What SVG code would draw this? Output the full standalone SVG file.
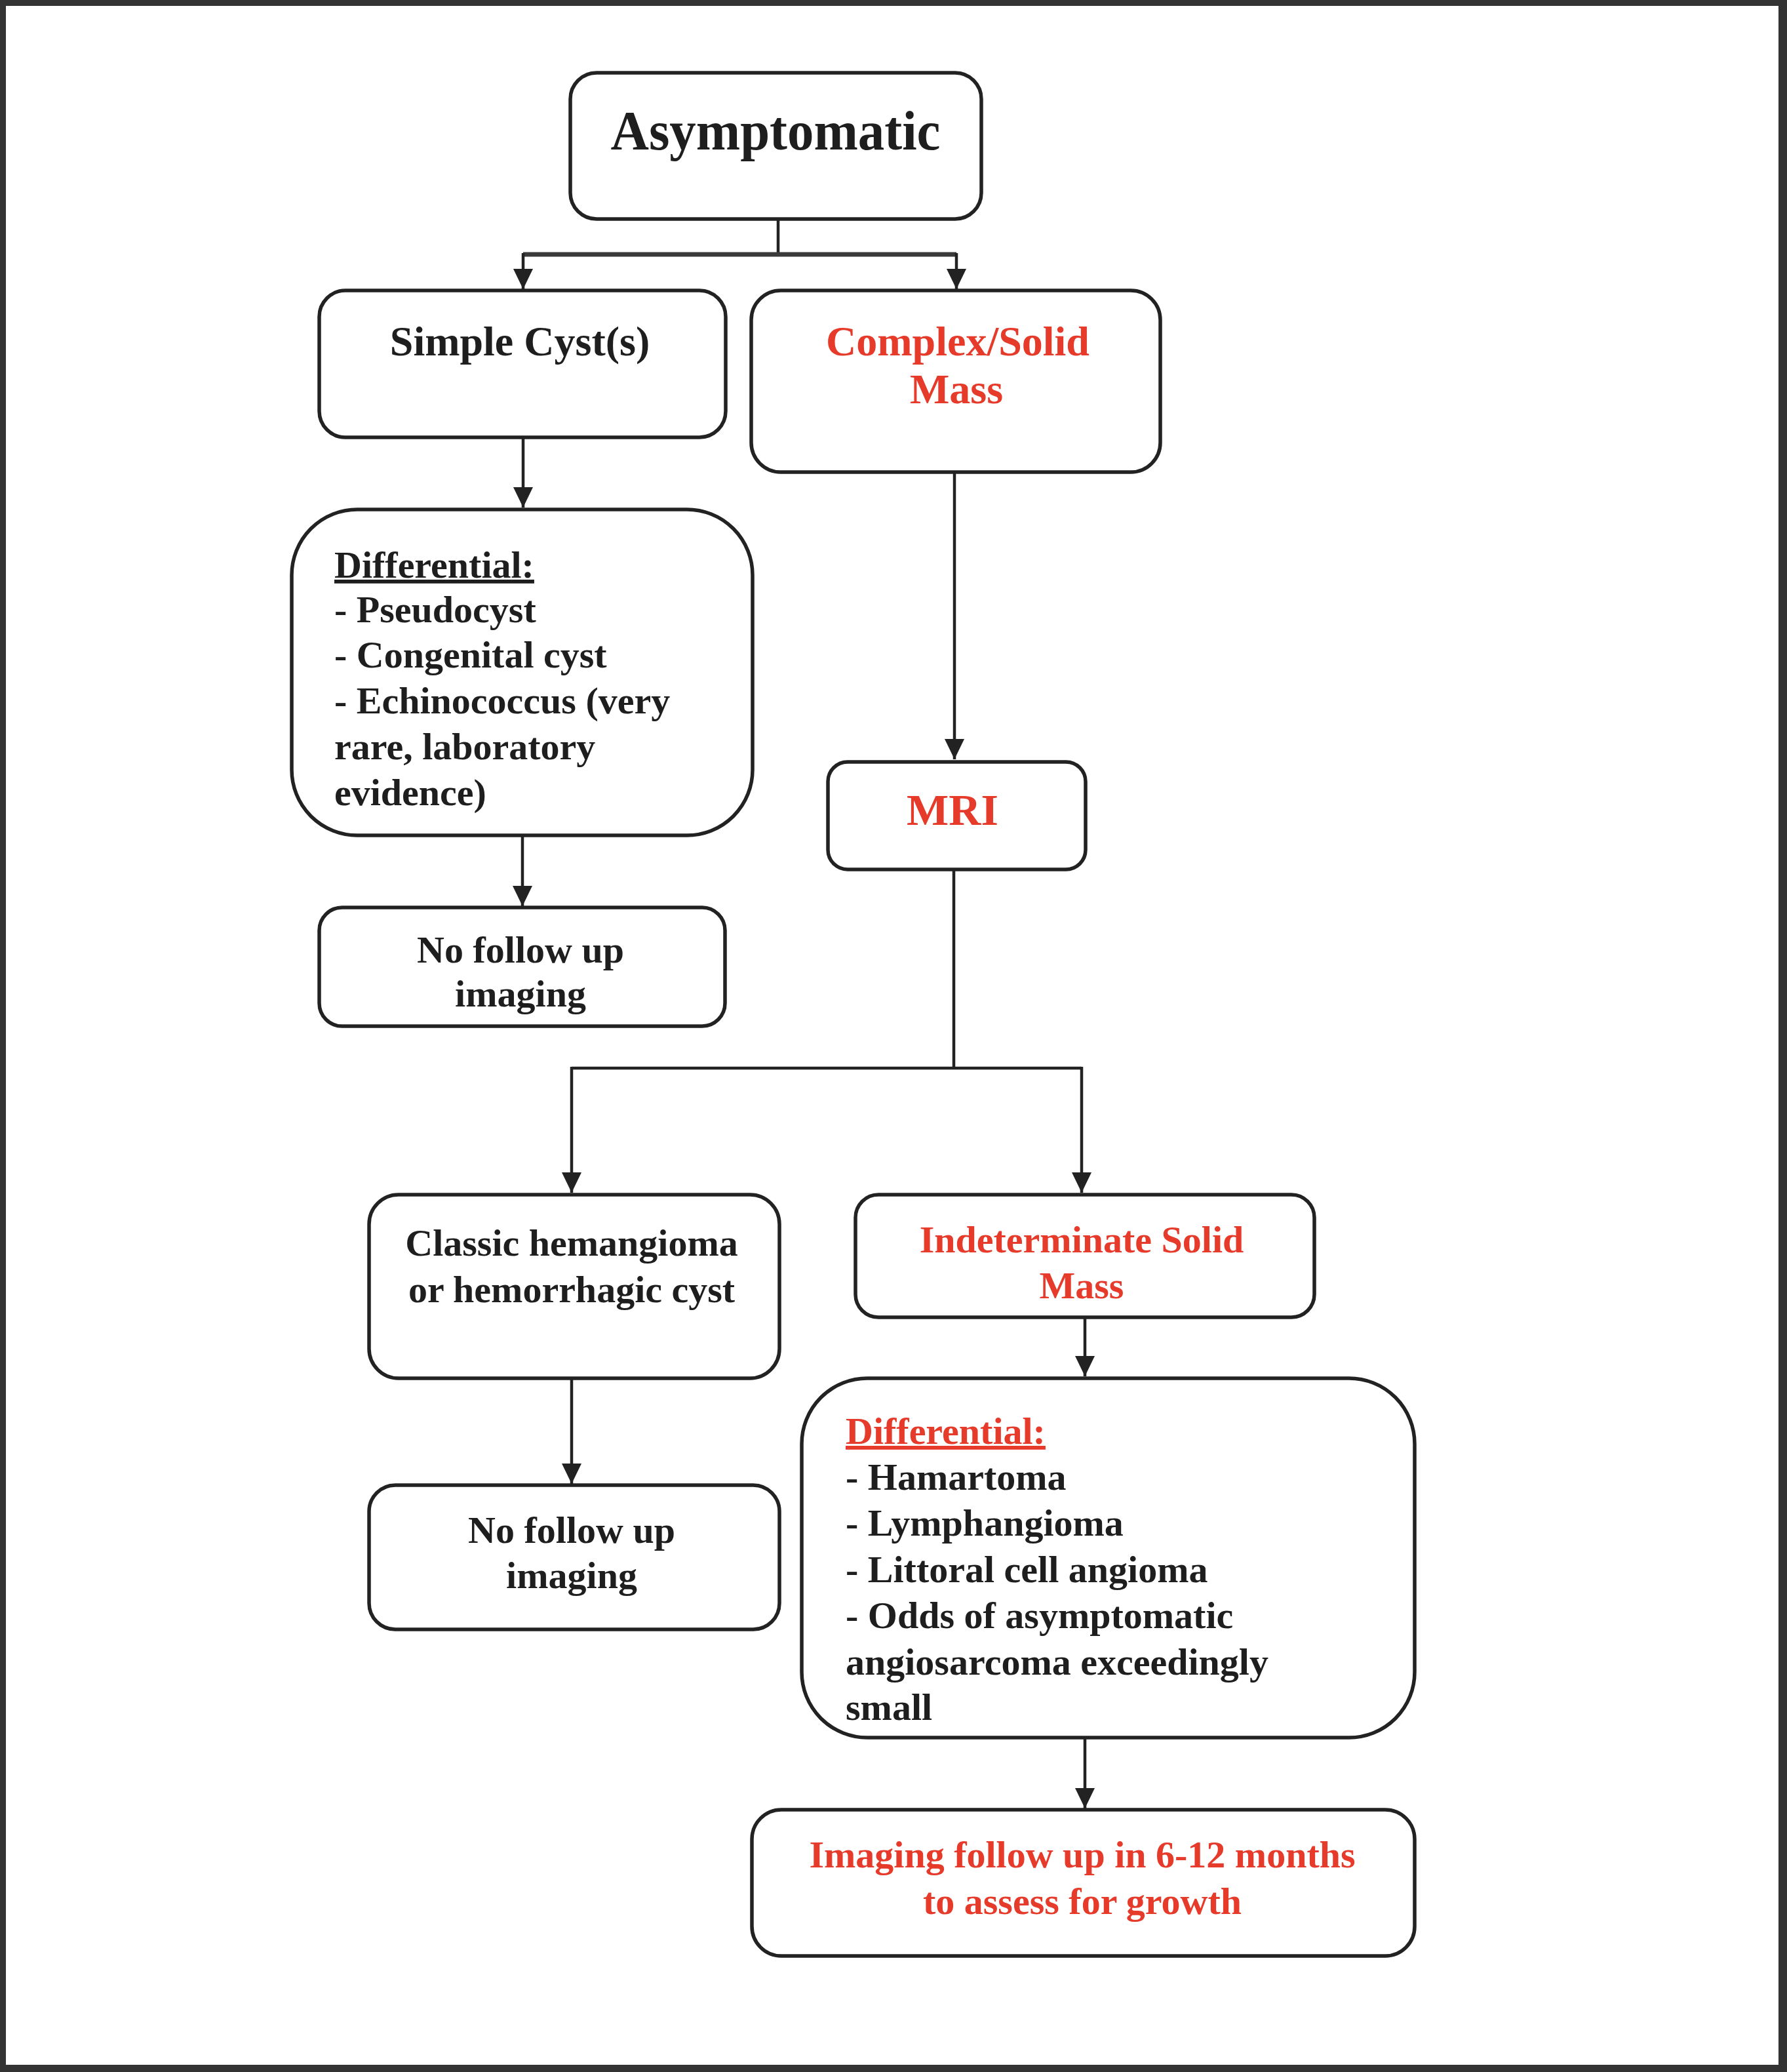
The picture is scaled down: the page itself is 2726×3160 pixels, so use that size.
<svg xmlns="http://www.w3.org/2000/svg" width="2726" height="3160" viewBox="0 0 2726 3160">
<style>
.box{fill:#fff;stroke:#222;stroke-width:5.5}
.t{font-family:"Liberation Serif","Times New Roman",serif;font-weight:bold;fill:#1e1e1e}
.c{text-anchor:middle}
.r{fill:#e63a2b}
.s58{font-size:58px}
.s64{font-size:64px}
.u{text-decoration:underline}
.ln{fill:none;stroke:#222;stroke-width:4.5}
</style>
<defs>
<marker id="ah" markerUnits="userSpaceOnUse" markerWidth="32" markerHeight="32" viewBox="0 0 32 32" refX="31" refY="16" orient="auto">
<path d="M0,1 L31,16 L0,31 Z" fill="#222"/>
</marker>
</defs>
<rect x="0" y="0" width="2726" height="3160" fill="#333"/>
<rect x="9" y="9" width="2704" height="3140" fill="#fff"/>

<g id="connectors">
<path class="ln" d="M1187,334 V388"/>
<path class="ln" d="M798,388 H1459" style="stroke-width:7;stroke:#3a3a3a"/>
<path class="ln" d="M798,386 V441" marker-end="url(#ah)"/>
<path class="ln" d="M1459,386 V441" marker-end="url(#ah)"/>
<path class="ln" d="M798,667 V774" marker-end="url(#ah)"/>
<path class="ln" d="M797,1275 V1382" marker-end="url(#ah)"/>
<path class="ln" d="M1456,720 V1158" marker-end="url(#ah)"/>
<path class="ln" d="M1455,1327 V1629"/>
<path class="ln" d="M872,1629 H1650"/>
<path class="ln" d="M872,1627 V1819" marker-end="url(#ah)"/>
<path class="ln" d="M1650,1627 V1819" marker-end="url(#ah)"/>
<path class="ln" d="M872,2102 V2263" marker-end="url(#ah)"/>
<path class="ln" d="M1655,1990 V2099" marker-end="url(#ah)"/>
<path class="ln" d="M1655,2650 V2758" marker-end="url(#ah)"/>
</g>

<g id="asymptomatic">
<rect class="box" x="870" y="111" width="627" height="223" rx="40"/>
<text class="t c" x="1183" y="228" font-size="84" textLength="503" lengthAdjust="spacingAndGlyphs">Asymptomatic</text>
</g>

<g id="simple-cyst">
<rect class="box" x="487" y="443" width="620" height="224" rx="40"/>
<text class="t c s64" x="793" y="542">Simple Cyst(s)</text>
</g>

<g id="complex-solid">
<rect class="box" x="1146" y="443" width="624" height="277" rx="45"/>
<text class="t c s64 r" x="1461" y="542">Complex/Solid</text>
<text class="t c s64 r" x="1459" y="615">Mass</text>
</g>

<g id="differential-left">
<rect class="box" x="445" y="777" width="703" height="497" rx="100"/>
<text class="t s58 u" x="510" y="881">Differential:</text>
<text class="t s58" x="510" y="949">- Pseudocyst</text>
<text class="t s58" x="510" y="1018">- Congenital cyst</text>
<text class="t s58" x="510" y="1088">- Echinococcus (very</text>
<text class="t s58" x="510" y="1158">rare, laboratory</text>
<text class="t s58" x="510" y="1228">evidence)</text>
</g>

<g id="no-follow-left">
<rect class="box" x="487" y="1384" width="619" height="181" rx="35"/>
<text class="t c s58" x="794" y="1468">No follow up</text>
<text class="t c s58" x="794" y="1535">imaging</text>
</g>

<g id="mri">
<rect class="box" x="1263" y="1162" width="393" height="164" rx="30"/>
<text class="t c r" x="1453" y="1258" font-size="68">MRI</text>
</g>

<g id="classic-hemangioma">
<rect class="box" x="563" y="1822" width="626" height="280" rx="45"/>
<text class="t c s58" x="872" y="1915">Classic hemangioma</text>
<text class="t c s58" x="872" y="1986">or hemorrhagic cyst</text>
</g>

<g id="no-follow-lower">
<rect class="box" x="563" y="2265" width="626" height="220" rx="40"/>
<text class="t c s58" x="872" y="2353">No follow up</text>
<text class="t c s58" x="872" y="2422">imaging</text>
</g>

<g id="indeterminate">
<rect class="box" x="1305" y="1822" width="700" height="187" rx="35"/>
<text class="t c s58 r" x="1650" y="1910">Indeterminate Solid</text>
<text class="t c s58 r" x="1650" y="1980">Mass</text>
</g>

<g id="differential-right">
<rect class="box" x="1223" y="2102" width="935" height="548" rx="100"/>
<text class="t s58 u r" x="1290" y="2202">Differential:</text>
<text class="t s58" x="1290" y="2272">- Hamartoma</text>
<text class="t s58" x="1290" y="2342">- Lymphangioma</text>
<text class="t s58" x="1290" y="2413">- Littoral cell angioma</text>
<text class="t s58" x="1290" y="2483">- Odds of asymptomatic</text>
<text class="t s58" x="1290" y="2554">angiosarcoma exceedingly</text>
<text class="t s58" x="1290" y="2623">small</text>
</g>

<g id="imaging-follow-up">
<rect class="box" x="1147" y="2760" width="1011" height="223" rx="45"/>
<text class="t c s58 r" x="1651" y="2848">Imaging follow up in 6-12 months</text>
<text class="t c s58 r" x="1651" y="2919">to assess for growth</text>
</g>
</svg>
